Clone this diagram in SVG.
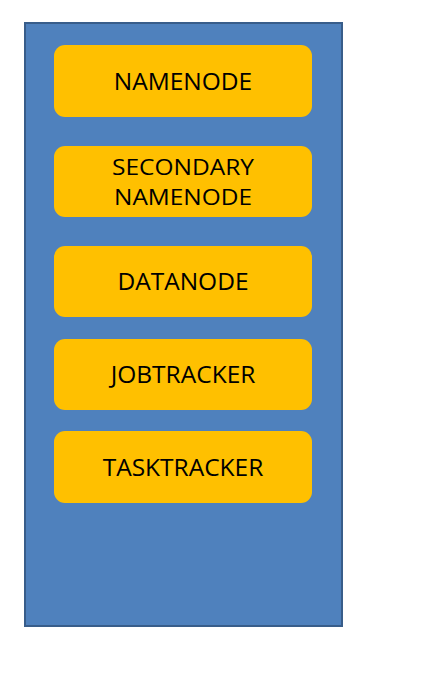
<svg xmlns="http://www.w3.org/2000/svg" width="427" height="673" viewBox="0 0 427 673">
<style>
.box{fill:#FFC000;}
.t{font-family:"Open Sans","Noto Sans",sans-serif;font-size:24.5px;fill:#000;text-anchor:middle;}
.t2{font-size:22px;}
</style>
<rect width="427" height="673" fill="#fff"/>
<g id="container">
<rect x="25" y="23" width="317" height="603" fill="#4F81BD" stroke="#385D8A" stroke-width="2"/>
</g>
<g id="namenode">
<rect class="box" x="54" y="45" width="258" height="72" rx="11"/>
<text class="t" x="183" y="89.5">NAMENODE</text>
</g>
<g id="secondary-namenode">
<rect class="box" x="54" y="146" width="258" height="71" rx="11"/>
<text class="t t2" x="183" y="174.5" textLength="142" lengthAdjust="spacingAndGlyphs">SECONDARY</text>
<text class="t t2" x="183" y="204.5" textLength="138" lengthAdjust="spacingAndGlyphs">NAMENODE</text>
</g>
<g id="datanode">
<rect class="box" x="54" y="246" width="258" height="71" rx="11"/>
<text class="t" x="183" y="290">DATANODE</text>
</g>
<g id="jobtracker">
<rect class="box" x="54" y="339" width="258" height="71" rx="11"/>
<text class="t" x="183" y="383">JOBTRACKER</text>
</g>
<g id="tasktracker">
<rect class="box" x="54" y="431" width="258" height="72" rx="11"/>
<text class="t" x="183" y="475.5">TASKTRACKER</text>
</g>
<g id="connectors"></g>
</svg>
